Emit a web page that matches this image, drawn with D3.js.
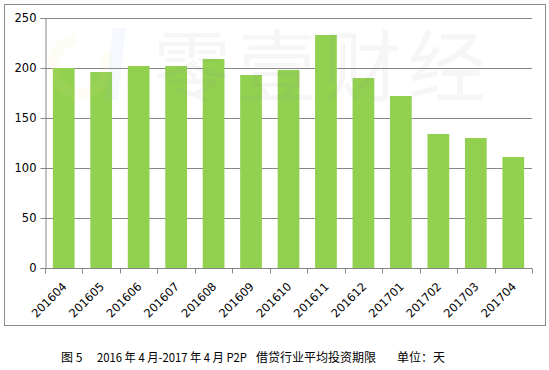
<!DOCTYPE html>
<html>
<head>
<meta charset="utf-8">
<script src="https://cdn.jsdelivr.net/npm/d3@7"></script>
<style>
  body { margin: 0; background: #fff; }
  svg { display: block; }
</style>
</head>
<body>
<script>
const months = ['201604', '201605', '201606', '201607', '201608', '201609', '201610',
    '201611', '201612', '201701', '201702', '201703', '201704'];
const avgTerm = [200, 196, 202, 202, 209, 193, 198, 233, 190, 172, 134, 130, 111];
const yTicks = [0, 50, 100, 150, 200, 250];

const W = 549, H = 370;
const plot = { left: 45, right: 532, top: 18, bottom: 268 };

const svg = d3.select('body').append('svg')
    .attr('width', W)
    .attr('height', H);

// outer frame
svg.append('rect')
    .attr('x', 4.5).attr('y', 4.5)
    .attr('width', 541).attr('height', 321)
    .attr('fill', '#fff')
    .attr('stroke', '#8c8c8c')
    .attr('stroke-width', 1);

const x = d3.scaleBand()
    .domain(months)
    .range([plot.left, plot.right])
    .paddingInner(0.42)
    .paddingOuter(0.21);

const y = d3.scaleLinear()
    .domain([0, 250])
    .range([plot.bottom, plot.top]);

// gridlines
svg.append('g')
    .selectAll('line')
    .data(yTicks.filter(d => d > 0))
    .join('line')
    .attr('x1', plot.left).attr('x2', plot.right)
    .attr('y1', d => Math.round(y(d)) + 0.5)
    .attr('y2', d => Math.round(y(d)) + 0.5)
    .attr('stroke', '#868686');

// bars
svg.append('g')
    .selectAll('rect')
    .data(months)
    .join('rect')
    .attr('x', d => x(d))
    .attr('width', x.bandwidth())
    .attr('y', (d, i) => y(avgTerm[i]))
    .attr('height', (d, i) => y(0) - y(avgTerm[i]))
    .attr('fill', '#92d050');

// faint watermark (logo + name), drawn over the plot like the original
const wm = svg.append('g').attr('pointer-events', 'none');
wm.append('path')
    .attr('d', d3.arc()({ innerRadius: 22, outerRadius: 33, startAngle: 0.35 * Math.PI, endAngle: 1.95 * Math.PI }))
    .attr('transform', 'translate(80,66)')
    .attr('fill', '#e8e27a')
    .attr('opacity', 0.08);
wm.append('path')
    .attr('d', 'M113,28 L126,28 L118,100 L105,100 Z')
    .attr('fill', '#7fb2e0')
    .attr('opacity', 0.08);
wm.append('text')
    .attr('x', 153).attr('y', 96)
    .attr('font-family', 'Noto Sans CJK SC')
    .attr('font-size', 78)
    .attr('letter-spacing', 7)
    .attr('fill', '#8a8a8a')
    .attr('opacity', 0.07)
    .text('零壹财经');

// y axis
const yAxis = svg.append('g')
    .attr('transform', `translate(${plot.left + 0.5},0)`)
    .call(d3.axisLeft(y).tickValues(yTicks).tickSize(5).tickPadding(4));
yAxis.select('.domain').attr('stroke', '#868686');
yAxis.selectAll('.tick line').attr('stroke', '#868686');
yAxis.selectAll('.tick text')
    .attr('font-family', 'DejaVu Sans, Verdana, sans-serif')
    .attr('font-size', 11.5)
    .attr('fill', '#000');

// x axis with ticks at category boundaries
const xAxis = svg.append('g')
    .attr('transform', `translate(0,${plot.bottom + 0.5})`);
xAxis.append('line')
    .attr('x1', plot.left).attr('x2', plot.right)
    .attr('stroke', '#868686');
const step = x.step();
const bounds = d3.range(months.length + 1).map(i => plot.left + i * step);
xAxis.selectAll('line.tk')
    .data(bounds)
    .join('line')
    .attr('class', 'tk')
    .attr('x1', d => Math.round(d) + 0.5).attr('x2', d => Math.round(d) + 0.5)
    .attr('y1', 0).attr('y2', 5)
    .attr('stroke', '#868686');
xAxis.selectAll('text')
    .data(months)
    .join('text')
    .attr('transform', d => `translate(${x(d) + x.bandwidth() / 2 - 2},13) rotate(-45)`)
    .attr('text-anchor', 'end')
    .attr('dy', '0.7em')
    .attr('font-family', 'DejaVu Sans, Verdana, sans-serif')
    .attr('font-size', 11.5)
    .attr('fill', '#000')
    .text(d => d);

// caption
const cap = svg.append('text')
    .attr('y', 362)
    .attr('font-family', 'Noto Sans CJK SC')
    .attr('font-size', 12)
    .attr('fill', '#000');
cap.append('tspan').attr('x', 61).text('图 5');
cap.append('tspan').attr('x', 97)
    .attr('textLength', 150).attr('lengthAdjust', 'spacingAndGlyphs')
    .text('2016 年 4 月-2017 年 4 月 P2P');
cap.append('tspan').attr('x', 256).text('借贷行业平均投资期限');
cap.append('tspan').attr('x', 397).text('单位：天');
</script>
</body>
</html>
